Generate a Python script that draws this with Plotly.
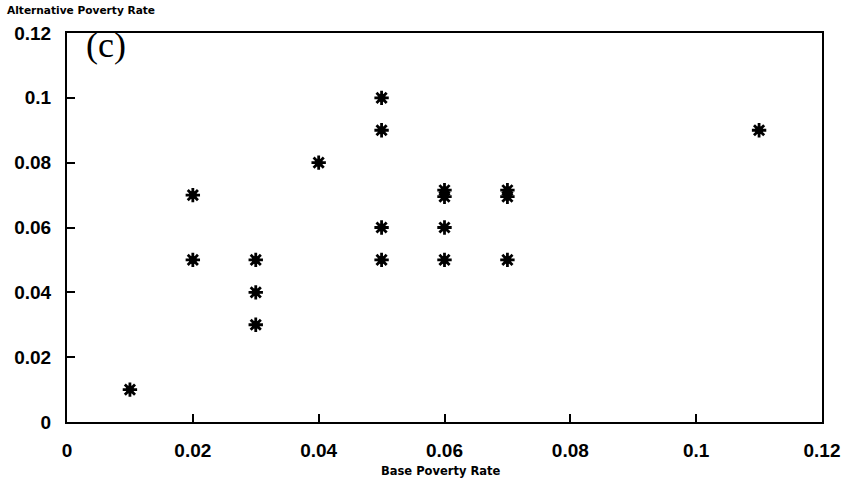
import plotly.graph_objects as go

# Base vs alternative poverty rates, panel (c)
base_rate = [0.01, 0.02, 0.02, 0.03, 0.03, 0.03, 0.04, 0.05, 0.05, 0.05, 0.05,
             0.06, 0.06, 0.06, 0.06, 0.07, 0.07, 0.07, 0.11]
alt_rate = [0.01, 0.07, 0.05, 0.05, 0.04, 0.03, 0.08, 0.10, 0.09, 0.06, 0.05,
            0.0715, 0.0695, 0.06, 0.05, 0.0715, 0.0695, 0.05, 0.09]

x_ticks = [0, 0.02, 0.04, 0.06, 0.08, 0.1, 0.12]
y_ticks = [0, 0.02, 0.04, 0.06, 0.08, 0.1, 0.12]

tick_font = dict(family="Liberation Sans, Arial, sans-serif", size=19,
                 color="black", weight="bold")

fig = go.Figure()
fig.add_trace(go.Scatter(
    x=base_rate, y=alt_rate, mode="markers",
    marker=dict(symbol="circle", size=8, color="black", line=dict(width=0)),
    hoverinfo="skip", showlegend=False,
))
fig.add_trace(go.Scatter(
    x=base_rate, y=alt_rate, mode="markers",
    marker=dict(symbol="asterisk-open", size=12, color="black",
                line=dict(width=2.8, color="black")),
    showlegend=False,
))

fig.update_layout(
    width=852, height=482,
    margin=dict(l=67, r=25, t=33, b=60),
    plot_bgcolor="white", paper_bgcolor="white",
    showlegend=False,
    xaxis=dict(
        range=[0, 0.12], tickvals=x_ticks, ticktext=[f"{v:g}" for v in x_ticks],
        showgrid=False, zeroline=False, showline=True, linecolor="black",
        linewidth=2, mirror=True, ticks="inside", ticklen=8, tickwidth=2,
        tickcolor="black", tickfont=tick_font, ticklabelstandoff=10,
    ),
    yaxis=dict(
        range=[0, 0.12], tickvals=y_ticks, ticktext=[f"{v:g}" for v in y_ticks],
        showgrid=False, zeroline=False, showline=True, linecolor="black",
        linewidth=2, mirror=True, ticks="inside", ticklen=8, tickwidth=2,
        tickcolor="black", tickfont=tick_font, ticklabelstandoff=10,
    ),
    annotations=[
        dict(text="<b>Alternative Poverty Rate</b>", xref="paper", yref="paper",
             x=-62 / 760, y=1 + 23 / 389, xanchor="left", yanchor="middle",
             showarrow=False,
             font=dict(family="DejaVu Sans, sans-serif", size=10.6, color="black")),
        dict(text="<b>Base Poverty Rate</b>", xref="paper", yref="paper",
             x=(443 - 67) / 760, y=-49 / 389, xanchor="center", yanchor="middle",
             showarrow=False,
             font=dict(family="DejaVu Sans, sans-serif", size=11.5, color="black")),
        dict(text="(c)", xref="paper", yref="paper",
             x=17 / 760, y=1 - 12 / 389, xanchor="left", yanchor="middle",
             showarrow=False,
             font=dict(family="Liberation Serif, serif", size=36, color="black")),
    ],
)

fig.write_html("out.html")
